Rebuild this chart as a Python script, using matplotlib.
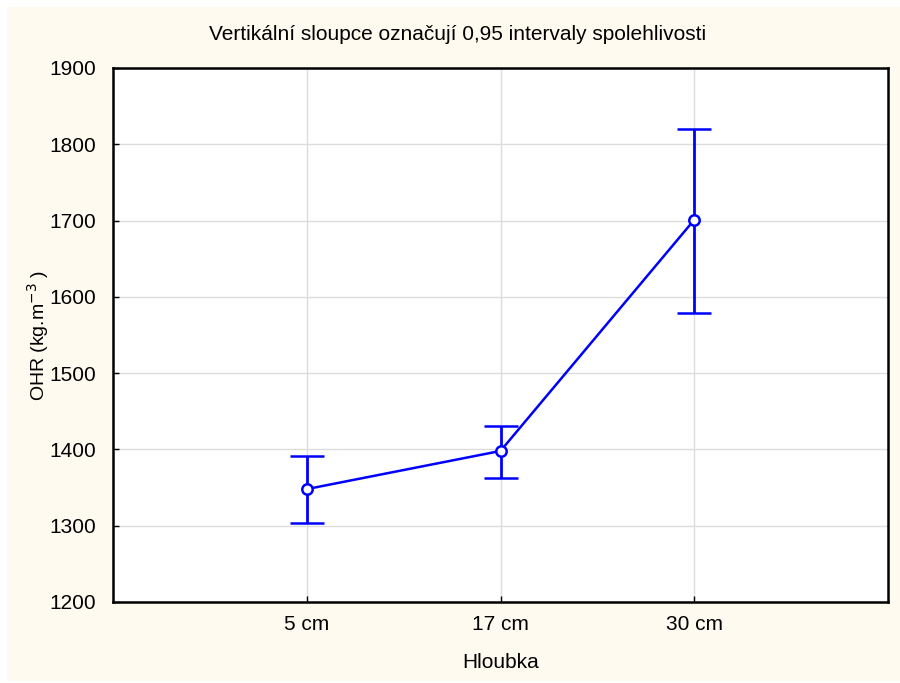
import matplotlib
matplotlib.use("Agg")
import matplotlib.pyplot as plt
from matplotlib.patches import Rectangle

categories = ["5 cm", "17 cm", "30 cm"]
means = [1348, 1398, 1701]
upper = [1392, 1431, 1820]
lower = [1303, 1363, 1579]
yticks = [1200, 1300, 1400, 1500, 1600, 1700, 1800, 1900]

plt.rcParams['font.family'] = ['Liberation Sans', 'DejaVu Sans']

fig = plt.figure(figsize=(9, 6.83), dpi=100)
fig.patch.set_facecolor("white")
fig.patches.append(Rectangle((7/900, 2/683), 1, 1 - 9/683, transform=fig.transFigure,
                             facecolor="#FFFAEF", edgecolor="none", zorder=-10))

ax = fig.add_axes([113/900, 1 - 602/683, (888-113)/900, (602-68)/683])
ax.set_facecolor("white")
x = [1, 2, 3]
yerr = [[m - l for m, l in zip(means, lower)], [u - m for u, m in zip(upper, means)]]
ax.errorbar(x, means, yerr=yerr, color="#0000FF", lw=1.8, elinewidth=2,
            capsize=12, capthick=2, marker="o", ms=7.5, mfc="white", mec="#0000FF",
            mew=1.8, zorder=3)

ax.set_xlim(0, 4)
ax.set_ylim(1200, 1900)
ax.set_xticks(x)
ax.set_xticklabels(categories)
ax.set_yticks(yticks)
ax.grid(True, color="#DCDCDC", lw=1)
ax.set_axisbelow(True)
ax.tick_params(direction="in", length=4, labelsize=15, width=1)
ax.tick_params(axis="y", pad=12)
ax.tick_params(axis="x", pad=9)
for s in ax.spines.values():
    s.set_linewidth(1.8)
    s.set_color("black")

fig.text(458/900, 1 - 35/683, "Vertikální sloupce označují 0,95 intervaly spolehlivosti",
         fontsize=15, ha="center", va="center")
ax.set_xlabel("Hloubka", fontsize=15, labelpad=14)
ax.set_ylabel("OHR (kg.m$^{-3}$ )", fontsize=14, labelpad=10)
ax.yaxis.set_label_coords(-62/775, 0.5)

fig.savefig("out.png", dpi=100)
